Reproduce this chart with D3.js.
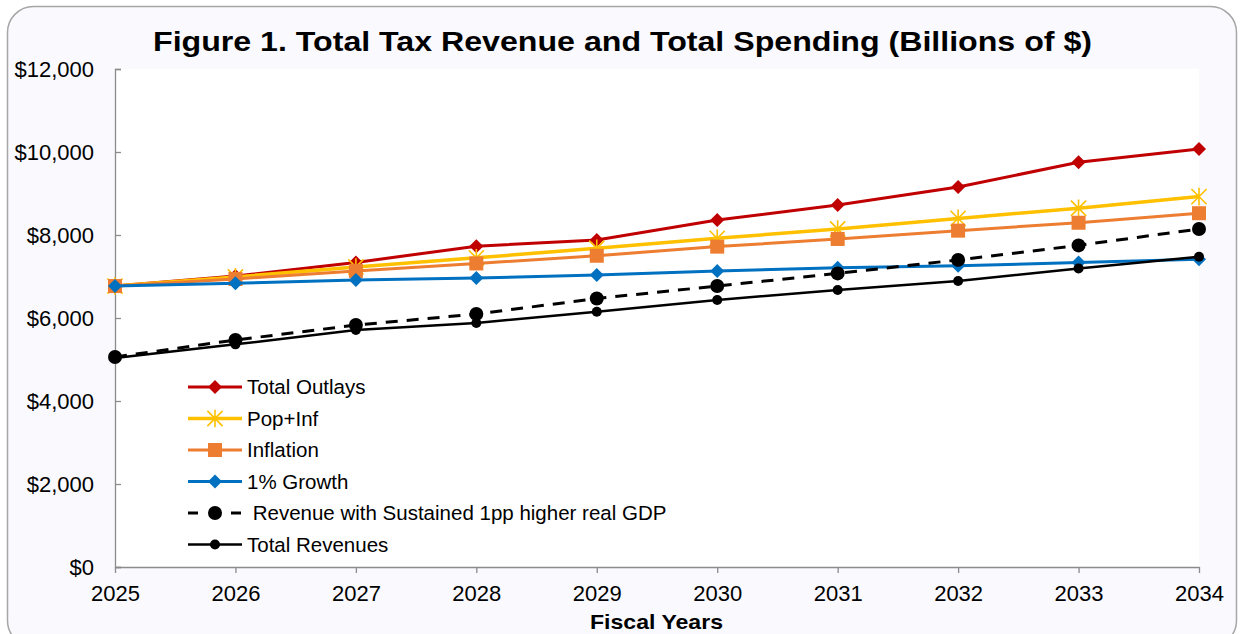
<!DOCTYPE html>
<html>
<head>
<meta charset="utf-8">
<script src="https://cdn.jsdelivr.net/npm/d3@7"></script>
<style>
  html, body { margin: 0; padding: 0; background: #ffffff; }
  svg { display: block; font-family: Arial, "Liberation Sans", sans-serif; }
</style>
</head>
<body>
<svg id="chart" width="1241" height="634"></svg>
<script>
// Fiscal years on the x axis
const years = [2025, 2026, 2027, 2028, 2029, 2030, 2031, 2032, 2033, 2034];

// Billions of dollars per fiscal year
const totalOutlays   = [6770, 7010, 7340, 7730, 7880, 8360, 8725, 9155, 9755, 10070];
const popInf         = [6770, 6990, 7230, 7450, 7680, 7920, 8145, 8400, 8645, 8925];
const inflation      = [6770, 6940, 7135, 7315, 7500, 7720, 7905, 8105, 8295, 8525];
const growth1pct     = [6770, 6835, 6915, 6965, 7035, 7130, 7210, 7260, 7335, 7415];
const revenueHigher  = [5060, 5470, 5830, 6095, 6470, 6770, 7075, 7400, 7750, 8145];
const totalRevenues  = [5035, 5365, 5710, 5880, 6150, 6435, 6675, 6890, 7195, 7475];

const yTicks = [0, 2000, 4000, 6000, 8000, 10000, 12000];

const seriesList = [
  { name: "Total Outlays", values: totalOutlays, color: "#C00000", width: 3, marker: "diamond", size: 7 },
  { name: "Pop+Inf", values: popInf, color: "#FFC000", width: 3.5, marker: "asterisk", size: 8 },
  { name: "Inflation", values: inflation, color: "#ED7D31", width: 3, marker: "square", size: 7 },
  { name: "1% Growth", values: growth1pct, color: "#0070C0", width: 3, marker: "diamond", size: 7 },
  { name: " Revenue with Sustained 1pp higher real GDP", values: revenueHigher, color: "#000000", width: 3, marker: "bigcircle", size: 7, dash: "12,9" },
  { name: "Total Revenues", values: totalRevenues, color: "#000000", width: 2.5, marker: "circle", size: 5 }
];

const svg = d3.select("#chart");

// Outer panel
svg.append("rect")
  .attr("x", 7.5).attr("y", 6.5)
  .attr("width", 1229).attr("height", 640)
  .attr("rx", 26).attr("ry", 26)
  .attr("fill", "#F9F9FE")
  .attr("stroke", "#A6A6A6").attr("stroke-width", 1.5);

const plot = { left: 115, right: 1199, top: 69, bottom: 567 };

const x = d3.scalePoint().domain(years).range([plot.left, plot.right]);
const y = d3.scaleLinear().domain([0, 12000]).range([plot.bottom, plot.top]);

// Plot area
svg.append("rect")
  .attr("x", plot.left).attr("y", plot.top)
  .attr("width", plot.right - plot.left).attr("height", plot.bottom - plot.top)
  .attr("fill", "#FFFFFF");

// Title
svg.append("text")
  .attr("x", 622.5).attr("y", 51)
  .attr("text-anchor", "middle")
  .attr("font-size", 27).attr("font-weight", "bold")
  .attr("fill", "#000")
  .attr("textLength", 939).attr("lengthAdjust", "spacingAndGlyphs")
  .text("Figure 1. Total Tax Revenue and Total Spending (Billions of $)");

// Y axis: ticks point into the plot
const yAxis = d3.axisRight(y)
  .tickValues(yTicks)
  .tickSize(6)
  .tickFormat(d => "$" + d3.format(",")(d));
const gy = svg.append("g").attr("transform", `translate(${plot.left},0)`).call(yAxis);
gy.select(".domain").attr("stroke", "#8C8C8C").attr("stroke-width", 1.3);
gy.selectAll(".tick line").attr("stroke", "#8C8C8C").attr("stroke-width", 1.3);
gy.selectAll(".tick text")
  .attr("x", -21).attr("dy", "0.36em")
  .attr("text-anchor", "end")
  .attr("font-size", 22).attr("fill", "#000")
  .attr("font-family", "Arial, 'Liberation Sans', sans-serif");

// X axis
const xAxis = d3.axisBottom(x).tickSize(6).tickSizeOuter(0).tickPadding(12);
const gx = svg.append("g").attr("transform", `translate(0,${plot.bottom})`).call(xAxis);
gx.select(".domain").attr("stroke", "#8C8C8C").attr("stroke-width", 1.3);
gx.selectAll(".tick line").attr("stroke", "#8C8C8C").attr("stroke-width", 1.3);
gx.selectAll(".tick text")
  .attr("font-size", 22).attr("fill", "#000")
  .attr("font-family", "Arial, 'Liberation Sans', sans-serif");

// X axis title
svg.append("text")
  .attr("x", 656.5).attr("y", 629)
  .attr("text-anchor", "middle")
  .attr("font-size", 21).attr("font-weight", "bold")
  .attr("textLength", 133).attr("lengthAdjust", "spacingAndGlyphs")
  .text("Fiscal Years");

// Marker drawing
function drawMarker(g, s, cx, cy) {
  const r = s.size;
  if (s.marker === "diamond") {
    g.append("path")
      .attr("d", `M${cx},${cy - r}L${cx + r},${cy}L${cx},${cy + r}L${cx - r},${cy}Z`)
      .attr("fill", s.color);
  } else if (s.marker === "square") {
    g.append("rect")
      .attr("x", cx - r).attr("y", cy - r)
      .attr("width", 2 * r).attr("height", 2 * r)
      .attr("fill", s.color);
  } else if (s.marker === "asterisk") {
    const d = r * 0.95;
    g.append("path")
      .attr("d", `M${cx - d},${cy - d}L${cx + d},${cy + d}M${cx + d},${cy - d}L${cx - d},${cy + d}M${cx},${cy - r * 1.1}L${cx},${cy + r * 1.1}`)
      .attr("stroke", s.color).attr("stroke-width", 1.6).attr("fill", "none");
  } else if (s.marker === "bigcircle" || s.marker === "circle") {
    g.append("circle").attr("cx", cx).attr("cy", cy).attr("r", r).attr("fill", s.color);
  }
}

const line = d3.line().x((d, i) => x(years[i])).y(d => y(d));

seriesList.forEach(s => {
  const g = svg.append("g").attr("class", "series");
  g.append("path")
    .datum(s.values)
    .attr("d", line)
    .attr("fill", "none")
    .attr("stroke", s.color)
    .attr("stroke-width", s.width)
    .attr("stroke-dasharray", s.dash || null);
  s.values.forEach((v, i) => drawMarker(g, s, x(years[i]), y(v)));
});

// Legend
const legend = svg.append("g").attr("class", "legend");
const legendRowY = [387, 418.5, 450, 481.5, 513, 544.5];
seriesList.forEach((s, i) => {
  const ly = legendRowY[i];
  const g = legend.append("g");
  if (s.dash) {
    g.append("line").attr("x1", 188).attr("x2", 198).attr("y1", ly).attr("y2", ly)
      .attr("stroke", s.color).attr("stroke-width", s.width);
    g.append("line").attr("x1", 231).attr("x2", 241).attr("y1", ly).attr("y2", ly)
      .attr("stroke", s.color).attr("stroke-width", s.width);
  } else {
    g.append("line").attr("x1", 188).attr("x2", 242).attr("y1", ly).attr("y2", ly)
      .attr("stroke", s.color).attr("stroke-width", s.width);
  }
  drawMarker(g, s, 215, ly);
  g.append("text")
    .attr("x", 247).attr("y", ly).attr("dy", "0.36em")
    .attr("font-size", 20.5).attr("fill", "#000")
    .attr("xml:space", "preserve")
    .style("white-space", "pre")
    .text(s.name);
});
</script>
</body>
</html>
